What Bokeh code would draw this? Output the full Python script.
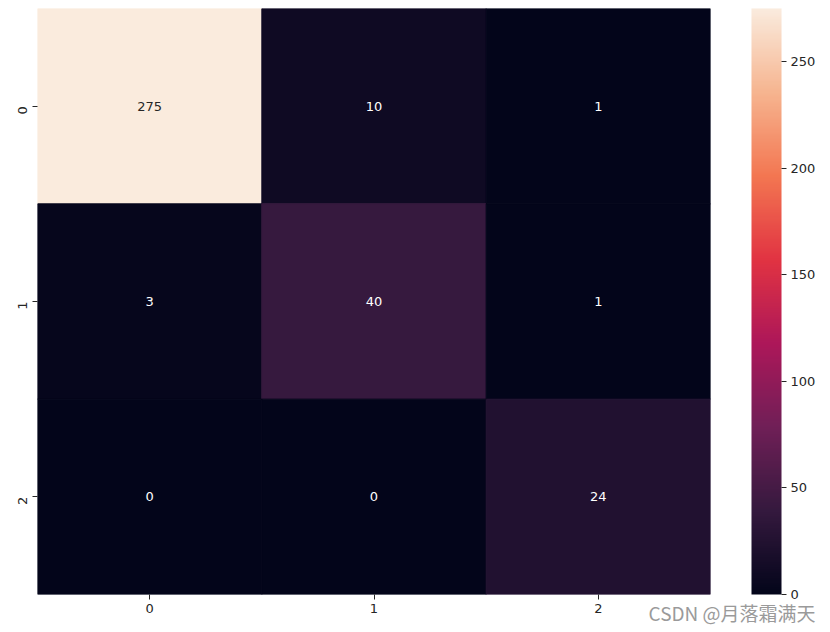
import numpy as np
from bokeh.plotting import figure
from bokeh.models import ColumnDataSource, LinearColorMapper, ColorBar, FixedTicker, Range1d, Title
from bokeh.embed import file_html
from bokeh.resources import INLINE
from bokeh.core.properties import value

# ---- data ----
row_labels = ["0", "1", "2"]
col_labels = ["0", "1", "2"]
matrix = [[275, 10, 1],
          [3, 40, 1],
          [0, 0, 24]]
cbar_ticks = [0, 50, 100, 150, 200, 250]
watermark = "CSDN @月落霜满天"

# rocket colormap anchors (seaborn)
anchors = ["#03051a", "#35193e", "#701f57", "#ad1759", "#e13342", "#f37651", "#f6b48f", "#faebdd"]
def hex2rgb(h):
    return np.array([int(h[i:i+2], 16) for i in (1, 3, 5)], dtype=float)
ap = np.linspace(0, 1, len(anchors))
arr = np.array([hex2rgb(h) for h in anchors])
palette = []
for t in np.linspace(0, 1, 256):
    rgb = [np.interp(t, ap, arr[:, k]) for k in range(3)]
    palette.append("#%02x%02x%02x" % tuple(int(round(c)) for c in rgb))

vmin, vmax = 0, 275
mapper = LinearColorMapper(palette=palette, low=vmin, high=vmax)

xs, ys, vals, txt, tcol = [], [], [], [], []
for i, row in enumerate(matrix):
    for j, v in enumerate(row):
        xs.append(j)
        ys.append(i)
        vals.append(v)
        txt.append(str(v))
        c = hex2rgb(palette[int(round((v - vmin) / (vmax - vmin) * 255))]) / 255.0
        lin = np.where(c <= 0.03928, c / 12.92, ((c + 0.055) / 1.055) ** 2.4)
        lum = 0.2126 * lin[0] + 0.7152 * lin[1] + 0.0722 * lin[2]
        tcol.append("#262626" if lum > 0.408 else "#ffffff")

src = ColumnDataSource(dict(x=xs, y=ys, v=vals, t=txt, tc=tcol))

p = figure(width=822, height=630, output_backend="svg", toolbar_location=None,
           x_range=Range1d(-0.5, 2.5), y_range=Range1d(2.5, -0.5),
           min_border_left=37, min_border_right=112, min_border_top=8, min_border_bottom=36)
p.rect(x="x", y="y", width=1, height=1, source=src,
       fill_color={"field": "v", "transform": mapper},
       line_color={"field": "v", "transform": mapper}, line_width=1)
p.text(x="x", y="y", text="t", source=src, text_color="tc", text_align="center",
       text_baseline="middle", text_font=value("DejaVu Sans"), text_font_size="13px")

p.grid.visible = False
p.outline_line_color = None
for ax, labels in ((p.xaxis, col_labels), (p.yaxis, row_labels)):
    ax.ticker = FixedTicker(ticks=[0, 1, 2])
    ax.major_label_overrides = {k: labels[k] for k in range(3)}
    ax.axis_line_color = None
    ax.minor_tick_line_color = None
    ax.major_tick_out = 5
    ax.major_tick_in = 0
    ax.major_tick_line_color = "#262626"
    ax.major_label_text_font = "DejaVu Sans"
    ax.major_label_text_font_size = "13px"
    ax.major_label_text_color = "#262626"
    ax.major_label_standoff = 4
p.yaxis.major_label_orientation = np.pi / 2
p.yaxis.major_label_standoff = 10

cb = ColorBar(color_mapper=mapper, ticker=FixedTicker(ticks=cbar_ticks), width=30, height=586,
              padding=0, margin=0, location=(41, 0), bar_line_color=None,
              major_tick_out=5, major_tick_in=0, major_tick_line_color="#262626",
              minor_tick_line_color=None, major_label_text_font="DejaVu Sans",
              major_label_text_font_size="13px", major_label_text_color="#262626",
              label_standoff=4, border_line_color=None, background_fill_alpha=0)
p.add_layout(cb, "right")

wm = Title(text=watermark, align="right", offset=-105, standoff=-34,
           vertical_align="top", text_baseline="top",
           text_font="Noto Sans CJK SC", text_font_size="19px", text_font_style="normal",
           text_color="#9a9a9a")
p.add_layout(wm, "below")

open("out.html", "w").write(file_html(p, INLINE))
